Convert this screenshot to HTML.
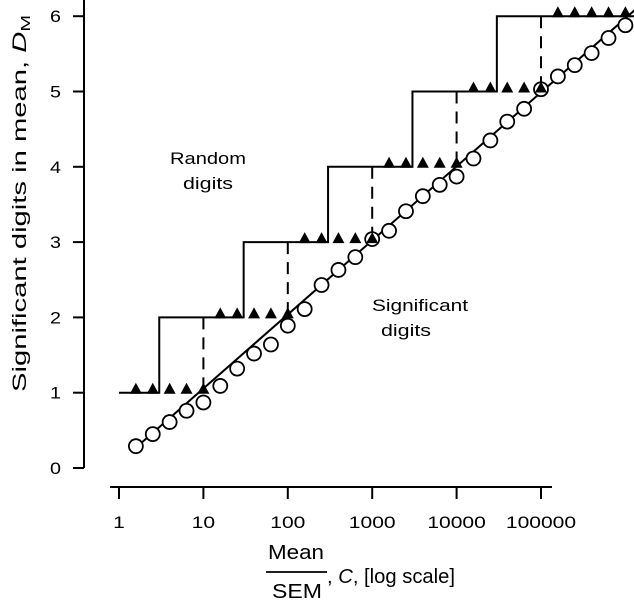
<!DOCTYPE html>
<html><head><meta charset="utf-8"><style>
html,body{margin:0;padding:0;background:#fff}
svg{display:block;font-family:"Liberation Sans",Arial,sans-serif}
</style></head><body>
<svg id="chart" width="634" height="604" viewBox="0 0 634 604" xmlns="http://www.w3.org/2000/svg">
<g id="axes"></g>
<g id="marks"></g>
<text x="208" y="164" font-size="17" text-anchor="middle" textLength="76" lengthAdjust="spacingAndGlyphs">Random</text>
<text x="208" y="189" font-size="17" text-anchor="middle" textLength="50" lengthAdjust="spacingAndGlyphs">digits</text>
<text x="420" y="311" font-size="17" text-anchor="middle" textLength="96" lengthAdjust="spacingAndGlyphs">Significant</text>
<text x="406" y="336" font-size="17" text-anchor="middle" textLength="50" lengthAdjust="spacingAndGlyphs">digits</text>
<text transform="translate(26,392) rotate(-90)" font-size="19" textLength="377" lengthAdjust="spacingAndGlyphs">Significant digits in mean, <tspan font-style="italic">D</tspan><tspan font-size="13" dy="4">M</tspan></text>
<text x="296" y="559" font-size="20" text-anchor="middle" textLength="56" lengthAdjust="spacingAndGlyphs">Mean</text>
<line x1="266" y1="572" x2="327" y2="572" stroke="#000" stroke-width="1.8"/>
<text x="297" y="598" font-size="20" text-anchor="middle" textLength="50" lengthAdjust="spacingAndGlyphs">SEM</text>
<text x="327" y="583" font-size="20" textLength="128" lengthAdjust="spacingAndGlyphs">, <tspan font-style="italic">C</tspan>, [log scale]</text>
</svg>
<script>
const xTicks = [0, 1, 2, 3, 4, 5];
const xTickLabels = ["1", "10", "100", "1000", "10000", "100000"];
const yTicks = [0, 1, 2, 3, 4, 5, 6];
const circleLogC = [0.2,0.4,0.6,0.8,1.0,1.2,1.4,1.6,1.8,2.0,2.2,2.4,2.6,2.8,3.0,3.2,3.4,3.6,3.8,4.0,4.2,4.4,4.6,4.8,5.0,5.2,5.4,5.6,5.8,6.0];
const circleD = [0.29,0.45,0.61,0.76,0.87,1.09,1.32,1.52,1.64,1.89,2.11,2.43,2.63,2.80,3.04,3.15,3.41,3.61,3.76,3.87,4.11,4.35,4.60,4.77,5.03,5.20,5.35,5.51,5.71,5.88];
const triLogC = circleLogC;
const triD = [1,1,1,1,1,2,2,2,2,2,3,3,3,3,3,4,4,4,4,4,5,5,5,5,5,6,6,6,6,6];
const stepLogC = [0, 0.477, 1.477, 2.477, 3.477, 4.477, 6.13];
const stepD = [1, 2, 3, 4, 5, 6];
const dashLogC = [1, 2, 3, 4, 5];
const fitLine = [[0.15, 0.22], [6.13, 6.1]];

const X = v => 119 + v * 84.4;
const Y = v => 468 - v * 75.3;
const NS = "http://www.w3.org/2000/svg";
function mk(parent, tag, attrs) {
  const e = document.createElementNS(NS, tag);
  for (const k in attrs) e.setAttribute(k, attrs[k]);
  parent.appendChild(e);
  return e;
}
const axes = document.getElementById('axes');
const marks = document.getElementById('marks');

let el = mk(axes, 'line', {x1: 84, y1: 0, x2: 84, y2: Y(0), stroke: '#000', 'stroke-width': 2});


yTicks.forEach(t => {
  let tk = mk(axes, 'line', {x1: 73, y1: Y(t), x2: 84, y2: Y(t), stroke: '#000', 'stroke-width': 2});
  
  
  let lb = mk(axes, 'text', {x: 61, y: Y(t) + 6, 'font-size': 17, 'text-anchor': 'end', textLength: 11, lengthAdjust: 'spacingAndGlyphs'});
  lb.textContent = String(t);
  
  
});
el = mk(axes, 'line', {x1: 110, y1: 487, x2: 552, y2: 487, stroke: '#000', 'stroke-width': 2});


xTicks.forEach((t, i) => {
  let tk = mk(axes, 'line', {x1: X(t), y1: 487, x2: X(t), y2: 499, stroke: '#000', 'stroke-width': 2});
  
  
  const lab = xTickLabels[i];
  let lb = mk(axes, 'text', {x: X(t), y: 528, 'font-size': 17, 'text-anchor': 'middle', textLength: lab.length * 11.7, lengthAdjust: 'spacingAndGlyphs'});
  lb.textContent = lab;
  
  
});

let d = '';
stepD.forEach((v, i) => {
  d += (i === 0 ? 'M' : 'L') + X(stepLogC[i]) + ',' + Y(v) + ' L' + X(stepLogC[i + 1]) + ',' + Y(v) + ' ';
});
el = mk(marks, 'path', {d: d, fill: 'none', stroke: '#000', 'stroke-width': 2});



dashLogC.forEach((v, i) => {
  let dl = mk(marks, 'line', {x1: X(v), y1: Y(i + 2), x2: X(v), y2: Y(i + 1) - 6, stroke: '#000', 'stroke-width': 2, 'stroke-dasharray': '12,8'});
  
  
});

el = mk(marks, 'line', {x1: X(fitLine[0][0]), y1: Y(fitLine[0][1]), x2: X(fitLine[1][0]), y2: Y(fitLine[1][1]), stroke: '#000', 'stroke-width': 2});



circleLogC.forEach((v, i) => {
  let c = mk(marks, 'circle', {cx: X(v), cy: Y(circleD[i]), r: 7, fill: '#fff', stroke: '#000', 'stroke-width': 1.8});
  
  
});
triLogC.forEach((v, i) => {
  const x = X(v), y = Y(triD[i]);
  let p = mk(marks, 'polygon', {points: (x - 6) + ',' + (y + 1) + ' ' + (x + 6) + ',' + (y + 1) + ' ' + x + ',' + (y - 10), fill: '#000'});
  
  
});
</script>
</body></html>
